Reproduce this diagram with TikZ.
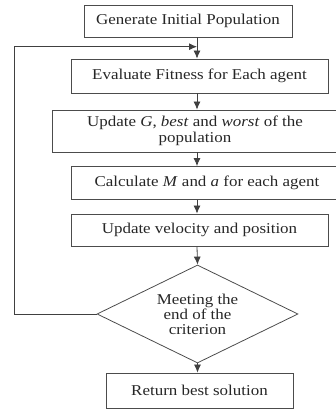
\documentclass[tikz,border=0pt]{standalone}
\usepackage{fontspec}
\setmainfont[FakeStretch=1.13]{Liberation Serif}
\usetikzlibrary{arrows.meta,positioning,shapes.geometric}
\tikzstyle{stepbox}=[draw=black!70, line width=0.8pt, align=center, text=black!85, font=\fontsize{15}{16}\selectfont, inner sep=0pt, minimum width=257pt, minimum height=33pt]
\tikzstyle{decide}=[stepbox, diamond, aspect=2.05, minimum width=201pt, minimum height=98pt, font=\fontsize{15}{15}\selectfont]
\tikzstyle{flow}=[draw=black!75, line width=0.8pt, -{Latex[length=8pt,width=7pt]}]

\begin{document}
\begin{tikzpicture}[x=1pt, y=1pt]
    \useasboundingbox (0,0) rectangle (335,418);
    \node (init) [stepbox, minimum width=208pt, minimum height=32pt] at (188,397) {Generate Initial Population};
    \node (fit) [stepbox, below of=init, node distance=55pt, xshift=11.5pt, minimum height=34pt] {Evaluate Fitness for Each agent};
    \node (upd) [stepbox, below of=fit, node distance=55pt, xshift=-4.5pt, minimum width=286pt, minimum height=42pt] {Update \textit{G}, \textit{best} and \textit{worst} of the\\population};
    \node (calc) [stepbox, below of=upd, node distance=52pt, xshift=12pt, minimum width=272pt] {Calculate \textit{M} and \textit{a} for each agent};
    \node (vel) [stepbox, below of=calc, node distance=47pt, xshift=-7.5pt, minimum height=32pt] {Update velocity and position};
    \node (crit) [decide, below of=vel, node distance=84pt, xshift=-2pt] {Meeting the\\end of the\\criterion};
    \node (ret) [stepbox, below of=crit, node distance=76.5pt, xshift=2pt, minimum width=187pt, minimum height=35pt] {Return best solution};
    %
    \coordinate (join) at (197,371.3);
    \coordinate (loop) at (14,371.3);
    %
    \draw [flow] (init.south -| join) -- (fit.north -| join);
    \draw [flow] (fit.south -| join) -- (upd.north -| join);
    \draw [flow] (upd.south -| join) -- (calc.north -| join);
    \draw [flow] (calc.south -| join) -- (vel.north -| join);
    \draw [flow] (vel.south -| join) -- (crit.north);
    \draw [flow] (crit.south) -- (ret.north -| crit.south);
    \draw [flow] (crit.west) -| (loop) -- (join);
\end{tikzpicture}
\end{document}
